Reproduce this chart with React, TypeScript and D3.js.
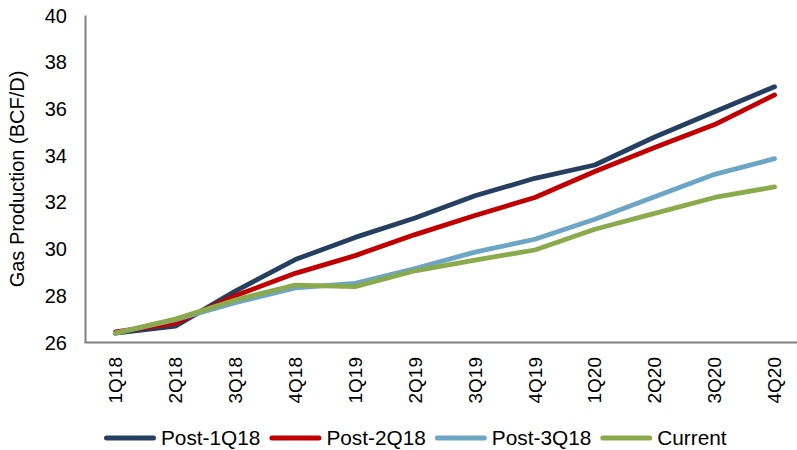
import React, { useEffect, useRef } from "react";
import * as d3 from "d3";

// Quarterly gas production forecasts (BCF/D) by forecast vintage
const quarters = ["1Q18", "2Q18", "3Q18", "4Q18", "1Q19", "2Q19", "3Q19", "4Q19", "1Q20", "2Q20", "3Q20", "4Q20"];
const post1Q18 = [26.4, 26.7, 28.2, 29.55, 30.5, 31.33, 32.28, 33.03, 33.6, 34.8, 35.88, 36.95];
const post2Q18 = [26.45, 26.82, 28.0, 28.96, 29.72, 30.62, 31.44, 32.21, 33.32, 34.35, 35.33, 36.6];
const post3Q18 = [26.4, 26.98, 27.7, 28.34, 28.53, 29.17, 29.87, 30.42, 31.28, 32.24, 33.2, 33.87];
const current = [26.4, 27.0, 27.82, 28.46, 28.39, 29.07, 29.53, 29.96, 30.85, 31.53, 32.21, 32.66];
const yTicks = [26, 28, 30, 32, 34, 36, 38, 40];

const seriesNames = ["Post-1Q18", "Post-2Q18", "Post-3Q18", "Current"];
const seriesValues = [post1Q18, post2Q18, post3Q18, current];
const seriesColors = ["#243f60", "#c00000", "#6ca6c4", "#8baa4c"];

const W = 797;
const H = 450;
const FONT = "'Liberation Sans', Arial, sans-serif";

export default function App() {
  const ref = useRef<SVGSVGElement | null>(null);

  useEffect(() => {
    const svg = d3.select(ref.current);
    svg.selectAll("*").remove();

    const left = 85.5;
    const top = 15.5;
    const bottom = 342.5;

    const x = d3.scaleBand<string>().domain(quarters).range([left, 804.5]).padding(0);
    const cx = (q: string) => (x(q) as number) + x.bandwidth() / 2;
    const y = d3.scaleLinear().domain([26, 40]).range([bottom, top]);

    // Axis lines
    svg.append("line")
      .attr("x1", left).attr("x2", left).attr("y1", top).attr("y2", bottom)
      .attr("stroke", "#808080").attr("stroke-width", 2);
    svg.append("line")
      .attr("x1", left - 1).attr("x2", 804.5).attr("y1", bottom).attr("y2", bottom)
      .attr("stroke", "#808080").attr("stroke-width", 2);

    // Y tick labels
    svg.append("g").selectAll("text").data(yTicks).join("text")
      .attr("x", 67).attr("y", (d) => y(d)).attr("dy", "0.35em")
      .attr("text-anchor", "end")
      .attr("font-family", FONT).attr("font-size", 20).attr("fill", "#000")
      .text((d) => String(d));

    // X tick labels (rotated)
    svg.append("g").selectAll("text").data(quarters).join("text")
      .attr("transform", (d) => `translate(${cx(d)},357) rotate(-90)`)
      .attr("dy", "0.35em")
      .attr("text-anchor", "end")
      .attr("font-family", FONT).attr("font-size", 19).attr("fill", "#000")
      .text((d) => d);

    // Y axis title
    svg.append("text")
      .attr("transform", `translate(17,${(top + bottom) / 2}) rotate(-90)`)
      .attr("dy", "0.35em")
      .attr("text-anchor", "middle")
      .attr("font-family", FONT).attr("font-size", 20).attr("fill", "#000")
      .text("Gas Production (BCF/D)");

    // Series lines
    const line = d3.line<number>()
      .x((_, i) => cx(quarters[i]))
      .y((v) => y(v));
    seriesValues.forEach((vals, i) => {
      svg.append("path")
        .attr("d", line(vals) as string)
        .attr("fill", "none")
        .attr("stroke", seriesColors[i])
        .attr("stroke-width", 4.8)
        .attr("stroke-linecap", "round")
        .attr("stroke-linejoin", "round");
    });

    // Legend
    const legend = svg.append("g");
    let lx = 104;
    const ly = 438;
    seriesNames.forEach((name, i) => {
      legend.append("line")
        .attr("x1", lx + 2.5).attr("x2", lx + 49.5).attr("y1", ly).attr("y2", ly)
        .attr("stroke", seriesColors[i]).attr("stroke-width", 5)
        .attr("stroke-linecap", "round");
      const t = legend.append("text")
        .attr("x", lx + 57).attr("y", ly).attr("dy", "0.35em")
        .attr("font-family", FONT).attr("font-size", 20.8).attr("fill", "#000")
        .text(name);
      const w = (t.node() as SVGTextElement).getComputedTextLength();
      lx = lx + 57 + w + 9;
    });
  }, []);

  return (
    <svg
      ref={ref}
      width={W}
      height={H}
      style={{ position: "absolute", left: 0, top: 0, background: "#fff" }}
    />
  );
}
